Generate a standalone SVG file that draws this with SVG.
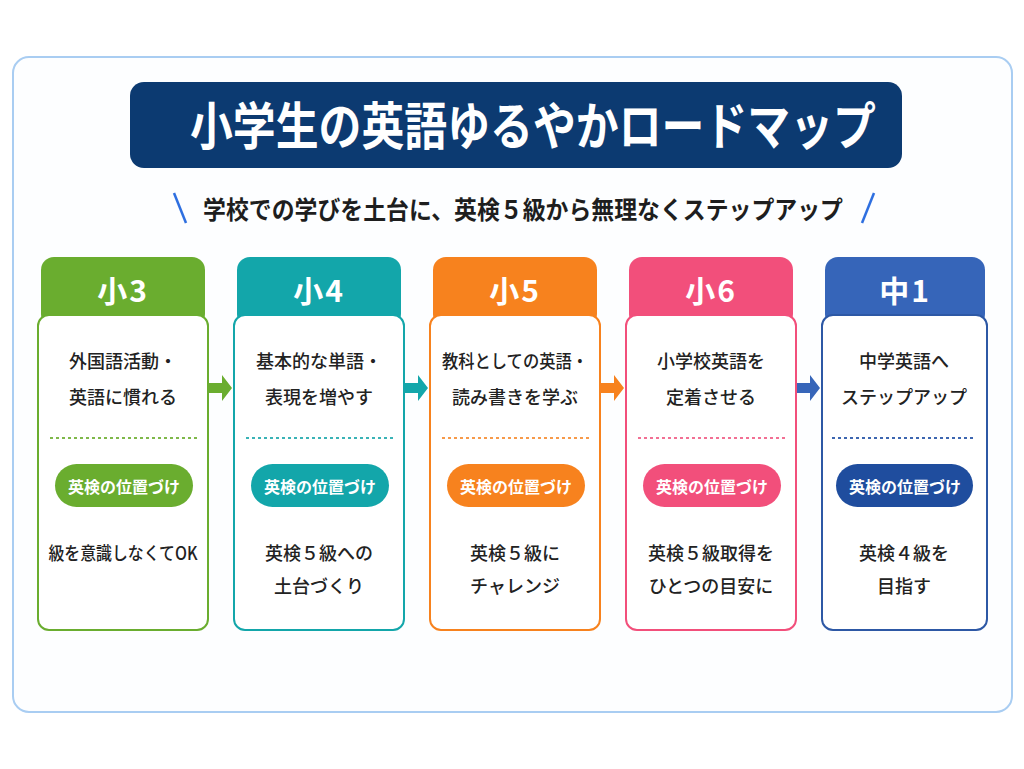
<svg xmlns="http://www.w3.org/2000/svg" width="1024" height="769" viewBox="0 0 1024 769">
<style>
text{font-family:"Noto Sans CJK JP","Noto Sans",sans-serif;}
.title{font-size:51px;font-weight:700;fill:#fff;}
.sub{font-size:25px;font-weight:700;fill:#1e1e1e;}
.hd{font-size:30px;font-weight:700;fill:#fff;letter-spacing:2px;}
.bd{font-size:18px;font-weight:500;fill:#222;}
.pt{font-size:16px;font-weight:700;fill:#fff;}
.body{fill:#fff;stroke-width:2;}
.dot{stroke-width:2;stroke-dasharray:3 3;fill:none;}
</style>
<rect x="0" y="0" width="1024" height="769" fill="#ffffff"/>
<rect x="13" y="57" width="999" height="655" rx="16" fill="#fdfeff" stroke="#a9cdf2" stroke-width="2"/>
<g id="title">
<rect x="130" y="82" width="772" height="86" rx="14" fill="#0c3a71"/>
<text class="title" x="533" y="145" text-anchor="middle" textLength="686" lengthAdjust="spacingAndGlyphs">小学生の英語ゆるやかロードマップ</text>
</g>
<g id="subtitle">
<line x1="174" y1="193" x2="186" y2="223" stroke="#2e6fe0" stroke-width="2.5"/>
<line x1="874" y1="193" x2="862" y2="223" stroke="#2e6fe0" stroke-width="2.5"/>
<text class="sub" x="523" y="219" text-anchor="middle" textLength="640" lengthAdjust="spacingAndGlyphs">学校での学びを土台に、英検５級から無理なくステップアップ</text>
</g>
<g id="connectors">
<path d="M209,383 H222 V375 L232,388 L222,401 V393 H209 Z" fill="#6aad2f"/>
<path d="M405,383 H418 V375 L428,388 L418,401 V393 H405 Z" fill="#13a6aa"/>
<path d="M601,383 H614 V375 L624,388 L614,401 V393 H601 Z" fill="#f7821e"/>
<path d="M797,383 H810 V375 L820,388 L810,401 V393 H797 Z" fill="#3665b9"/>
</g>
<g id="card-s3">
<rect x="41" y="257" width="164" height="70" rx="13" fill="#6aad2f"/>
<text class="hd" x="123" y="302" text-anchor="middle">小3</text>
<rect class="body" x="38" y="315" width="170" height="315" rx="11" stroke="#6aad2f"/>
<text class="bd" x="123" y="368" text-anchor="middle">外国語活動・</text>
<text class="bd" x="123" y="404" text-anchor="middle">英語に慣れる</text>
<line class="dot" x1="50" y1="438" x2="197" y2="438" stroke="#7fb84a"/>
<rect x="55" y="464" width="138" height="43" rx="21.5" fill="#6aad2f"/>
<text class="pt" x="124" y="493" text-anchor="middle">英検の位置づけ</text>
<text class="bd" x="123" y="560" text-anchor="middle" textLength="149" lengthAdjust="spacingAndGlyphs">級を意識しなくてOK</text>
</g>
<g id="card-s4">
<rect x="237" y="257" width="164" height="70" rx="13" fill="#13a6aa"/>
<text class="hd" x="319" y="302" text-anchor="middle">小4</text>
<rect class="body" x="234" y="315" width="170" height="315" rx="11" stroke="#13a6aa"/>
<text class="bd" x="319" y="368" text-anchor="middle">基本的な単語・</text>
<text class="bd" x="319" y="404" text-anchor="middle">表現を増やす</text>
<line class="dot" x1="246" y1="438" x2="393" y2="438" stroke="#3ab3b6"/>
<rect x="251" y="464" width="138" height="43" rx="21.5" fill="#13a6aa"/>
<text class="pt" x="320" y="493" text-anchor="middle">英検の位置づけ</text>
<text class="bd" x="319" y="560" text-anchor="middle">英検５級への</text>
<text class="bd" x="319" y="593" text-anchor="middle">土台づくり</text>
</g>
<g id="card-s5">
<rect x="433" y="257" width="164" height="70" rx="13" fill="#f7821e"/>
<text class="hd" x="515" y="302" text-anchor="middle">小5</text>
<rect class="body" x="430" y="315" width="170" height="315" rx="11" stroke="#f7821e"/>
<text class="bd" x="515" y="368" text-anchor="middle" textLength="146" lengthAdjust="spacingAndGlyphs">教科としての英語・</text>
<text class="bd" x="515" y="404" text-anchor="middle">読み書きを学ぶ</text>
<line class="dot" x1="442" y1="438" x2="589" y2="438" stroke="#f79a4a"/>
<rect x="447" y="464" width="138" height="43" rx="21.5" fill="#f7821e"/>
<text class="pt" x="516" y="493" text-anchor="middle">英検の位置づけ</text>
<text class="bd" x="515" y="560" text-anchor="middle">英検５級に</text>
<text class="bd" x="515" y="593" text-anchor="middle">チャレンジ</text>
</g>
<g id="card-s6">
<rect x="629" y="257" width="164" height="70" rx="13" fill="#f24f7b"/>
<text class="hd" x="711" y="302" text-anchor="middle">小6</text>
<rect class="body" x="626" y="315" width="170" height="315" rx="11" stroke="#f24f7b"/>
<text class="bd" x="711" y="368" text-anchor="middle">小学校英語を</text>
<text class="bd" x="711" y="404" text-anchor="middle">定着させる</text>
<line class="dot" x1="638" y1="438" x2="785" y2="438" stroke="#f27094"/>
<rect x="643" y="464" width="138" height="43" rx="21.5" fill="#f24f7b"/>
<text class="pt" x="712" y="493" text-anchor="middle">英検の位置づけ</text>
<text class="bd" x="711" y="560" text-anchor="middle">英検５級取得を</text>
<text class="bd" x="711" y="593" text-anchor="middle">ひとつの目安に</text>
</g>
<g id="card-j1">
<rect x="825" y="257" width="160" height="70" rx="13" fill="#3665b9"/>
<text class="hd" x="905" y="302" text-anchor="middle">中1</text>
<rect class="body" x="822" y="315" width="165" height="315" rx="11" stroke="#2d58a5"/>
<text class="bd" x="904" y="368" text-anchor="middle">中学英語へ</text>
<text class="bd" x="904" y="404" text-anchor="middle">ステップアップ</text>
<line class="dot" x1="832" y1="438" x2="976" y2="438" stroke="#3d66b0"/>
<rect x="836" y="464" width="137" height="43" rx="21.5" fill="#1f4d9e"/>
<text class="pt" x="905" y="493" text-anchor="middle">英検の位置づけ</text>
<text class="bd" x="904" y="560" text-anchor="middle">英検４級を</text>
<text class="bd" x="904" y="593" text-anchor="middle">目指す</text>
</g>
</svg>
